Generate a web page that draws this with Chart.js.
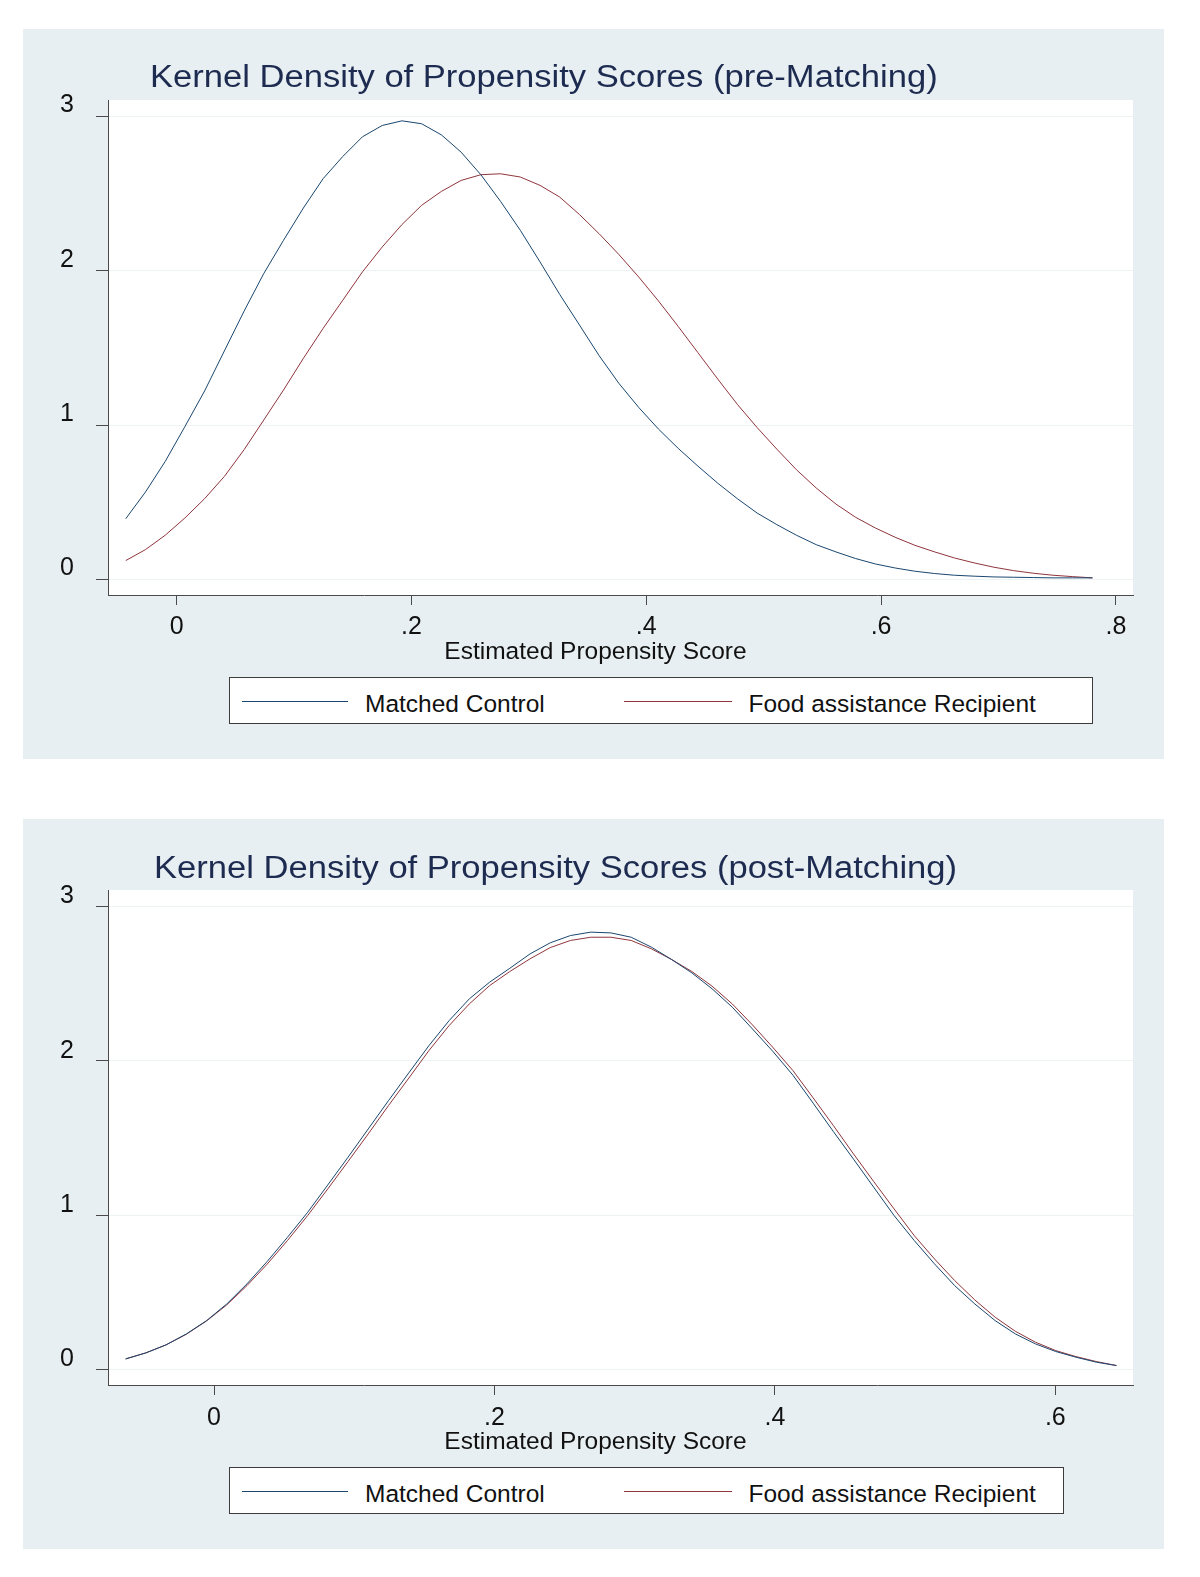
<!DOCTYPE html>
<html>
<head>
<meta charset="utf-8">
<script src="https://cdn.jsdelivr.net/npm/chart.js@4.4.0/dist/chart.umd.min.js"></script>
<style>
  body { margin: 0; background: #fff; width: 1200px; height: 1577px; position: relative;
         font-family: "Liberation Sans", Arial, sans-serif; }
  .panel { position: absolute; left: 23px; width: 1141px; height: 730px; background: #e8eff2; }
  .panel canvas { position: absolute; left: 0; top: 0; }
  .titulo { position: absolute; font-size: 31px; line-height: 31px; color: #1d2b50;
            white-space: nowrap; transform: scaleX(1.115); transform-origin: 0 0; }
  .xtitulo { position: absolute; left: 572.5px; top: 609.5px; font-size: 24.5px; line-height: 24.5px;
             color: #111; white-space: nowrap; transform: translateX(-50%); }
  .legenda { position: absolute; left: 206px; top: 648px; height: 47px; box-sizing: border-box;
             border: 1px solid #3c3c3c; background: #fff; }
  .chave { position: absolute; top: 672px; height: 1px; }
  .rotulo { position: absolute; top: 663px; font-size: 24.5px; line-height: 24.5px; color: #111; white-space: nowrap; }
</style>
</head>
<body>

<div class="panel" style="top:29px">
  <canvas id="chart-pre" width="1141" height="730"></canvas>
  <div class="titulo" style="left:126.5px;top:32px">Kernel Density of Propensity Scores (pre-Matching)</div>
  <div class="xtitulo">Estimated Propensity Score</div>
  <div class="legenda" style="width:864px"></div>
  <div class="chave serie-0" style="left:219px;width:106px"></div>
  <div class="rotulo" style="left:342px">Matched Control</div>
  <div class="chave serie-1" style="left:601px;width:108px"></div>
  <div class="rotulo" style="left:725.5px">Food assistance Recipient</div>
</div>

<div class="panel" style="top:819px">
  <canvas id="chart-post" width="1141" height="730"></canvas>
  <div class="titulo" style="left:130.5px;top:33px">Kernel Density of Propensity Scores (post-Matching)</div>
  <div class="xtitulo">Estimated Propensity Score</div>
  <div class="legenda" style="width:835px"></div>
  <div class="chave serie-0" style="left:219px;width:106px"></div>
  <div class="rotulo" style="left:342px">Matched Control</div>
  <div class="chave serie-1" style="left:601px;width:108px"></div>
  <div class="rotulo" style="left:725.5px">Food assistance Recipient</div>
</div>

<script>
// pontos de avaliação do kernel (50 por curva)
const X_PRE = [-0.0434, -0.0266, -0.0098, 0.0070, 0.0238, 0.0406, 0.0574, 0.0742, 0.0910, 0.1079,
  0.1247, 0.1415, 0.1583, 0.1751, 0.1919, 0.2087, 0.2255, 0.2423, 0.2591, 0.2759,
  0.2927, 0.3095, 0.3263, 0.3431, 0.3599, 0.3768, 0.3936, 0.4104, 0.4272, 0.4440,
  0.4608, 0.4776, 0.4944, 0.5112, 0.5280, 0.5448, 0.5616, 0.5784, 0.5952, 0.6120,
  0.6288, 0.6457, 0.6625, 0.6793, 0.6961, 0.7129, 0.7297, 0.7465, 0.7633, 0.7801];

const MATCHED_PRE = [0.394, 0.567, 0.765, 0.991, 1.222, 1.481, 1.739, 1.983, 2.198, 2.407,
  2.597, 2.741, 2.869, 2.942, 2.972, 2.953, 2.881, 2.769, 2.623, 2.450,
  2.263, 2.058, 1.847, 1.649, 1.450, 1.270, 1.115, 0.975, 0.850, 0.735,
  0.625, 0.524, 0.431, 0.356, 0.287, 0.226, 0.179, 0.136, 0.101, 0.075,
  0.054, 0.039, 0.028, 0.022, 0.017, 0.015, 0.013, 0.011, 0.011, 0.011];

const RECIPIENT_PRE = [0.123, 0.194, 0.287, 0.399, 0.524, 0.668, 0.841, 1.034, 1.228, 1.433,
  1.627, 1.810, 1.994, 2.155, 2.300, 2.425, 2.515, 2.586, 2.623, 2.629,
  2.608, 2.554, 2.478, 2.365, 2.240, 2.105, 1.960, 1.805, 1.640, 1.470,
  1.300, 1.135, 0.985, 0.845, 0.711, 0.593, 0.489, 0.403, 0.334, 0.274,
  0.222, 0.179, 0.140, 0.108, 0.080, 0.058, 0.041, 0.028, 0.019, 0.011];

const X_POST = [-0.0630, -0.0486, -0.0342, -0.0197, -0.0053, 0.0091, 0.0235, 0.0379, 0.0524, 0.0668,
  0.0812, 0.0956, 0.1100, 0.1245, 0.1389, 0.1533, 0.1677, 0.1821, 0.1966, 0.2110,
  0.2254, 0.2398, 0.2542, 0.2687, 0.2831, 0.2975, 0.3119, 0.3263, 0.3408, 0.3552,
  0.3696, 0.3840, 0.3984, 0.4129, 0.4273, 0.4417, 0.4561, 0.4705, 0.4850, 0.4994,
  0.5138, 0.5282, 0.5426, 0.5571, 0.5715, 0.5859, 0.6003, 0.6147, 0.6292, 0.6436];

const MATCHED_POST = [0.069, 0.108, 0.160, 0.231, 0.317, 0.425, 0.555, 0.700, 0.857, 1.019,
  1.197, 1.376, 1.559, 1.743, 1.922, 2.099, 2.261, 2.402, 2.510, 2.600,
  2.693, 2.765, 2.812, 2.834, 2.829, 2.801, 2.737, 2.657, 2.570, 2.467,
  2.348, 2.207, 2.063, 1.907, 1.726, 1.542, 1.363, 1.181, 0.998, 0.836,
  0.685, 0.544, 0.425, 0.317, 0.231, 0.166, 0.117, 0.080, 0.048, 0.026];

const RECIPIENT_POST = [0.069, 0.108, 0.160, 0.229, 0.315, 0.419, 0.544, 0.683, 0.836, 0.998,
  1.171, 1.348, 1.527, 1.711, 1.888, 2.067, 2.229, 2.369, 2.488, 2.579,
  2.661, 2.734, 2.780, 2.801, 2.801, 2.780, 2.726, 2.657, 2.579, 2.484,
  2.369, 2.233, 2.089, 1.937, 1.760, 1.581, 1.397, 1.218, 1.041, 0.868,
  0.717, 0.577, 0.451, 0.339, 0.248, 0.177, 0.123, 0.084, 0.052, 0.026];

const SERIES = ["Matched Control", "Food assistance Recipient"];
const CORES = ["#1a476f", "#90353b"];

const Y_TICKS = [0, 1, 2, 3];
const X_TICKS_PRE = [0, 0.2, 0.4, 0.6, 0.8];
const X_LABELS_PRE = ["0", ".2", ".4", ".6", ".8"];
const X_TICKS_POST = [0, 0.2, 0.4, 0.6];
const X_LABELS_POST = ["0", ".2", ".4", ".6"];

const FONTE = "'Liberation Sans', Arial, sans-serif";
const TRACO = "#4a4a4a";

// área do gráfico branca sobre o fundo azulado do painel
const fundoPlot = {
  id: "fundoPlot",
  beforeDraw(chart) {
    const { ctx, chartArea: a } = chart;
    ctx.save();
    ctx.fillStyle = "#fff";
    ctx.fillRect(a.left, a.top, a.right - a.left, a.bottom - a.top);
    ctx.restore();
  },
};

function desenhar(canvasId, xs, matched, recipient, xTicks, xLabels, xMin, xMax, yOffset, xPad) {
  const canvas = document.getElementById(canvasId);
  const series = [matched, recipient];
  new Chart(canvas.getContext("2d"), {
    type: "line",
    data: {
      datasets: series.map((ys, k) => ({
        label: SERIES[k],
        data: xs.map((x, i) => ({ x, y: ys[i] })),
        borderColor: CORES[k],
        borderWidth: 1,
        pointRadius: 0,
        tension: 0,
        fill: false,
      })),
    },
    options: {
      responsive: false,
      animation: false,
      events: [],
      layout: { padding: { top: 71, right: 31, bottom: 0, left: 0 } },
      scales: {
        x: {
          type: "linear", min: xMin, max: xMax,
          afterBuildTicks: s => { s.ticks = xTicks.map(v => ({ value: v })); },
          afterFit: s => { s.height = 164; },
          grid: { drawOnChartArea: false, drawTicks: true, tickLength: 10, tickColor: TRACO },
          border: { display: true, color: TRACO, width: 1 },
          ticks: {
            callback: (v, i) => xLabels[i],
            font: { family: FONTE, size: 25 }, color: "#111",
            padding: xPad, maxRotation: 0, autoSkip: false,
          },
        },
        y: {
          type: "linear", min: -0.1, max: 3.107,
          afterBuildTicks: s => { s.ticks = Y_TICKS.map(v => ({ value: v })); },
          afterFit: s => { s.width = 85; },
          grid: { color: "#edf2f4", tickColor: TRACO, tickLength: 12 },
          border: { display: true, color: TRACO, width: 1 },
          ticks: {
            callback: v => String(v),
            font: { family: FONTE, size: 25 }, color: "#111",
            padding: 22, labelOffset: yOffset,
          },
        },
      },
      plugins: { legend: { display: false }, tooltip: { enabled: false }, title: { display: false } },
    },
    plugins: [fundoPlot],
  });
}

document.querySelectorAll(".chave").forEach(el => {
  el.style.background = el.classList.contains("serie-0") ? CORES[0] : CORES[1];
});

desenhar("chart-pre", X_PRE, MATCHED_PRE, RECIPIENT_PRE, X_TICKS_PRE, X_LABELS_PRE, -0.0585, 0.8146, -11, 7);
desenhar("chart-post", X_POST, MATCHED_POST, RECIPIENT_POST, X_TICKS_POST, X_LABELS_POST, -0.0756, 0.6554, -10, 8);
</script>
</body>
</html>
